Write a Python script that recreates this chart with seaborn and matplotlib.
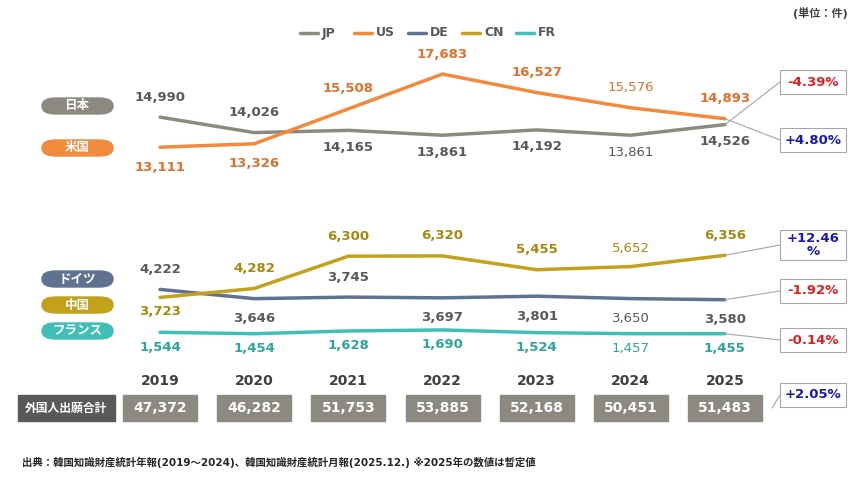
import numpy as np
import pandas as pd
import matplotlib.pyplot as plt
from matplotlib.patches import FancyBboxPatch
import seaborn as sns

sns.set_theme(style="white")
plt.rcParams['font.family'] = ['DejaVu Sans', 'Noto Sans CJK JP']

years = [2019, 2020, 2021, 2022, 2023, 2024, 2025]
jp = [14990, 14026, 14165, 13861, 14192, 13861, 14526]
us = [13111, 13326, 15508, 17683, 16527, 15576, 14893]
de = [4222, 3646, 3745, 3697, 3801, 3650, 3580]
cn = [3723, 4282, 6300, 6320, 5455, 5652, 6356]
fr = [1544, 1454, 1628, 1690, 1524, 1457, 1455]
totals = [47372, 46282, 51753, 53885, 52168, 50451, 51483]
series_names = ['JP', 'US', 'DE', 'CN', 'FR']
pill_labels = ['日本', '米国', 'ドイツ', '中国', 'フランス']
changes = ['-4.39%', '+4.80%', '-1.92%', '+12.46\n%', '-0.14%']
total_change = '+2.05%'

colors = {'JP': '#8c8a80', 'US': '#f28a3c', 'DE': '#5f7391', 'CN': '#c4a11a', 'FR': '#3fbfb5'}
label_colors = {'JP': '#595959', 'US': '#e0702a', 'DE': '#595959', 'CN': '#a8880c', 'FR': '#2aa69c'}
# label vertical offsets in pixels (positive = up)
offsets = {
    'JP': [20, 20, -17, -17, -17, -17, -17],
    'US': [-20, -20, 20, 20, 20, 20, 20],
    'DE': [20, -20, 20, -20, -20, -20, -20],
    'CN': [-14, 20, 20, 20, 20, 18, 20],
    'FR': [-15, -15, -15, -15, -15, -15, -15],
}

df = pd.DataFrame({'year': years, 'JP': jp, 'US': us, 'DE': de, 'CN': cn, 'FR': fr})
long = df.melt(id_vars='year', var_name='country', value_name='count')

fig = plt.figure(figsize=(8.64, 4.8), dpi=100)
ax = fig.add_axes([113 / 864, 1 - 357 / 480, 659 / 864, 296 / 480])
sns.lineplot(data=long, x='year', y='count', hue='country', palette=colors,
             hue_order=series_names, linewidth=2.5, ax=ax, legend=False)
ax.set_xlim(2018.5, 2025.5)
ax.set_ylim(0, 296 * 62.5)
ax.axis('off')

for name in series_names:
    vals = df[name].tolist()
    for i, (x, v) in enumerate(zip(years, vals)):
        bold = 'normal' if x == 2024 else 'bold'
        ax.annotate(f'{v:,}', (x, v), xytext=(0, offsets[name][i]), textcoords='offset pixels',
                    ha='center', va='center', fontsize=9.5, fontweight=bold,
                    color=label_colors[name])

# legend
lx = 300
for name in series_names:
    fig.lines.append(plt.Line2D([lx / 864, (lx + 18) / 864], [1 - 33 / 480] * 2,
                                transform=fig.transFigure, color=colors[name], lw=2.5))
    fig.text((lx + 22) / 864, 1 - 33 / 480, name, fontsize=9, fontweight='bold',
             color='#595959', va='center')
    lx += 54 if name != 'CN' else 54

fig.text(848 / 864, 1 - 13 / 480, '(単位：件)', fontsize=8, fontweight='bold',
         color='#404040', ha='right', va='center')

# pills
pill_y = [106, 148, 279, 305, 331]
for lab, name, py in zip(pill_labels, series_names, pill_y):
    fig.patches.append(FancyBboxPatch((42 / 864, 1 - (py + 8) / 480), 71 / 864, 16 / 480,
                                      boxstyle='round,pad=0,rounding_size=0.016',
                                      transform=fig.transFigure, color=colors[name]))
    fig.text(77 / 864, 1 - py / 480, lab, fontsize=9, fontweight='bold', color='white',
             ha='center', va='center')

# change boxes
box_y = [82, 140, 291, 245, 340]
for name, ch, by in zip(series_names, changes, box_y):
    v = df[name].iloc[-1]
    px, py = ax.transData.transform((2025, v))
    tx, ty = 780, 480 - by
    fig.lines.append(plt.Line2D([px / 864, tx / 864], [py / 480, ty / 480],
                                transform=fig.transFigure, color='#a6a6a6', lw=0.8))
    h = 30 if '\n' in ch else 24
    fig.patches.append(plt.Rectangle((780 / 864, 1 - (by + h / 2) / 480), 66 / 864, h / 480,
                                     transform=fig.transFigure, facecolor='white',
                                     edgecolor='#a6a6a6', lw=0.8))
    fig.text(813 / 864, 1 - by / 480, ch, fontsize=9.5, fontweight='bold',
             color='#e02020' if ch.startswith('-') else '#1a1ab0',
             ha='center', va='center', linespacing=1.0)

# totals row
for x, t in zip(years, totals):
    px = ax.transData.transform((x, 0))[0]
    fig.text(px / 864, 1 - 381 / 480, str(x), fontsize=10, fontweight='bold',
             color='#404040', ha='center', va='center')
    fig.patches.append(plt.Rectangle(((px - 37) / 864, 1 - 421 / 480), 74 / 864, 26 / 480,
                                     transform=fig.transFigure, color='#8c8a80'))
    fig.text(px / 864, 1 - 408 / 480, f'{t:,}', fontsize=10, fontweight='bold',
             color='white', ha='center', va='center')
fig.patches.append(plt.Rectangle((18 / 864, 1 - 421 / 480), 97 / 864, 26 / 480,
                                 transform=fig.transFigure, color='#595959'))
fig.text(66 / 864, 1 - 408 / 480, '外国人出願合計', fontsize=8.5, fontweight='bold',
         color='white', ha='center', va='center')
fig.lines.append(plt.Line2D([772 / 864, 780 / 864], [1 - 408 / 480, 1 - 395 / 480],
                            transform=fig.transFigure, color='#a6a6a6', lw=0.8))
fig.patches.append(plt.Rectangle((780 / 864, 1 - 407 / 480), 66 / 864, 24 / 480,
                                 transform=fig.transFigure, facecolor='white',
                                 edgecolor='#a6a6a6', lw=0.8))
fig.text(813 / 864, 1 - 395 / 480, total_change, fontsize=9.5, fontweight='bold',
         color='#1a1ab0', ha='center', va='center')

fig.text(22 / 864, 1 - 462 / 480,
         '出典：韓国知識財産統計年報(2019～2024)、韓国知識財産統計月報(2025.12.) ※2025年の数値は暫定値',
         fontsize=7.5, fontweight='bold', color='#262626', va='center')

fig.savefig('out.png', dpi=100)
